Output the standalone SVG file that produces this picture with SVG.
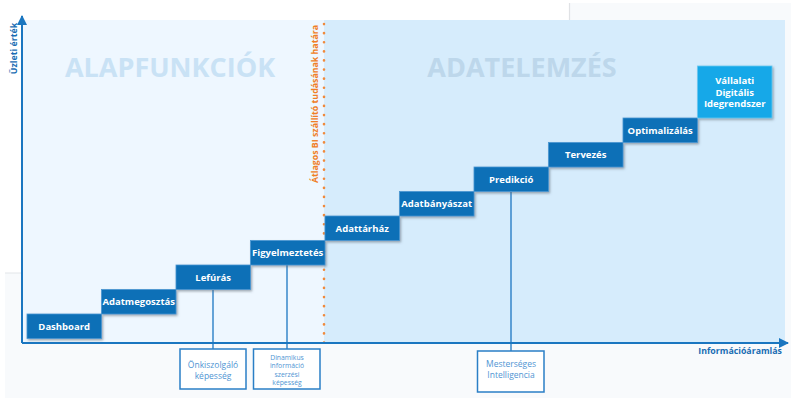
<svg xmlns="http://www.w3.org/2000/svg" width="791" height="398" viewBox="0 0 791 398">
  <style>
    .step { fill: #0c6fb7; stroke: #4a97d2; stroke-width: 0.8; filter: url(#shadow); }
    .step-top { fill: #12a8e8; stroke: #6cc8f0; stroke-width: 0.8; filter: url(#shadow); }
    .step-label { font-family: "Open Sans", "DejaVu Sans", sans-serif; font-weight: bold; font-size: 9.5px; fill: #ffffff; text-anchor: middle; }
    .zone-title { font-family: "Open Sans", "DejaVu Sans", sans-serif; font-weight: bold; font-size: 27px; text-anchor: middle; }
    .axis { stroke: #1a76c0; stroke-width: 2; fill: none; }
    .axis-label { font-family: "Open Sans", "DejaVu Sans", sans-serif; font-weight: bold; font-size: 8.8px; fill: #1a6db3; }
    .leader { stroke: #2a7fc6; stroke-width: 1.4; fill: none; }
    .callout { fill: #ffffff; stroke: #2a7fc6; stroke-width: 1.5; }
    .callout-text { font-family: "Open Sans", "DejaVu Sans", sans-serif; font-size: 8.5px; fill: #4f95d3; text-anchor: middle; }
    .callout-small { font-family: "Open Sans", "DejaVu Sans", sans-serif; font-size: 6.8px; fill: #4f95d3; text-anchor: middle; }
  </style>
  <defs>
    <filter id="shadow" x="-10%" y="-10%" width="130%" height="140%">
      <feDropShadow dx="1.2" dy="1.5" stdDeviation="0.8" flood-color="#5a6470" flood-opacity="0.55"/>
    </filter>
    <marker id="arrow" viewBox="0 0 10 10" refX="9" refY="5" markerWidth="5" markerHeight="5" orient="auto" markerUnits="strokeWidth">
      <path d="M0,0 L10,5 L0,10 Z" fill="#1a76c0"/>
    </marker>
  </defs>

  <!-- page background -->
  <rect x="0" y="0" width="791" height="398" fill="#ffffff"/>
  <rect x="5" y="273" width="786" height="125" fill="#f8fafc"/>
  <line x1="5" y1="273" x2="22" y2="273" stroke="#e2e5e8" stroke-width="1"/>
  <rect x="570" y="3" width="221" height="395" fill="#f8fafc"/>
  <line x1="569.5" y1="3" x2="569.5" y2="20" stroke="#e0e2e5" stroke-width="1.2"/>

  <!-- zones -->
  <g id="zone-basic">
    <rect x="22" y="20" width="302" height="323" fill="#eef7ff"/>
    <text class="zone-title" x="170" y="77" fill="#c9e2f5">ALAPFUNKCIÓK</text>
  </g>
  <g id="zone-analytics">
    <rect x="324" y="20" width="461" height="323" fill="#d6ecfc"/>
    <text class="zone-title" x="522" y="77" fill="#bdd7eb">ADATELEMZÉS</text>
  </g>

  <!-- vendor knowledge boundary -->
  <g id="boundary">
    <line x1="324" y1="24" x2="324" y2="343" stroke="#f08a3c" stroke-width="2.6" stroke-linecap="round" stroke-dasharray="0.1 9"/>
    <text transform="translate(317.5,104) rotate(-90)" font-family="'Open Sans', 'DejaVu Sans', sans-serif" font-weight="bold" font-size="8.8px" fill="#f07e26" text-anchor="middle">Átlagos BI szállító tudásának határa</text>
  </g>

  <!-- connectors: leader lines to capability boxes -->
  <g id="connectors">
    <line class="leader" x1="213" y1="290" x2="213" y2="349"/>
    <line class="leader" x1="287" y1="265" x2="287" y2="349"/>
    <line class="leader" x1="511" y1="192" x2="511" y2="351"/>
  </g>

  <!-- axes -->
  <g id="axes">
    <line class="axis" x1="22" y1="343" x2="22" y2="16" marker-end="url(#arrow)"/>
    <line class="axis" x1="22" y1="343" x2="788" y2="343" marker-end="url(#arrow)"/>
    <text class="axis-label" transform="translate(17,48.5) rotate(-90)" text-anchor="middle">Üzleti érték</text>
    <text class="axis-label" x="782" y="354" text-anchor="end">Információáramlás</text>
  </g>

  <!-- maturity steps -->
  <g id="step-dashboard">
    <rect class="step" x="27" y="314" width="74.5" height="24.5"/>
    <text class="step-label" x="64.2" y="329.5">Dashboard</text>
  </g>
  <g id="step-adatmegosztas">
    <rect class="step" x="101.5" y="289.5" width="74.5" height="24.5"/>
    <text class="step-label" x="138.7" y="305">Adatmegosztás</text>
  </g>
  <g id="step-lefuras">
    <rect class="step" x="176" y="265" width="74.5" height="24.5"/>
    <text class="step-label" x="213.2" y="280.5">Lefúrás</text>
  </g>
  <g id="step-figyelmeztetes">
    <rect class="step" x="250.5" y="240.5" width="74.5" height="24.5"/>
    <text class="step-label" x="287.7" y="256">Figyelmeztetés</text>
  </g>
  <g id="step-adattarhaz">
    <rect class="step" x="325" y="216" width="74.5" height="24.5"/>
    <text class="step-label" x="362.2" y="231.5">Adattárház</text>
  </g>
  <g id="step-adatbanyaszat">
    <rect class="step" x="399.5" y="191.5" width="74.5" height="24.5"/>
    <text class="step-label" x="436.7" y="207">Adatbányászat</text>
  </g>
  <g id="step-predikcio">
    <rect class="step" x="474" y="167" width="74.5" height="24.5"/>
    <text class="step-label" x="511.2" y="182.5">Predikció</text>
  </g>
  <g id="step-tervezes">
    <rect class="step" x="548.5" y="142.5" width="74.5" height="24.5"/>
    <text class="step-label" x="585.7" y="158">Tervezés</text>
  </g>
  <g id="step-optimalizalas">
    <rect class="step" x="623" y="118" width="74.5" height="24.5"/>
    <text class="step-label" x="660.2" y="133.5">Optimalizálás</text>
  </g>
  <g id="step-idegrendszer">
    <rect class="step-top" x="697.5" y="66" width="74.5" height="52"/>
    <text class="step-label" x="734.7" y="84">Vállalati</text>
    <text class="step-label" x="734.7" y="95.5">Digitális</text>
    <text class="step-label" x="734.7" y="107">Idegrendszer</text>
  </g>

  <!-- capability callouts -->
  <g id="callout-onkiszolgalo">
    <rect class="callout" x="180" y="349" width="66" height="40"/>
    <text class="callout-text" x="213" y="368">Önkiszolgáló</text>
    <text class="callout-text" x="213" y="378.5">képesség</text>
  </g>
  <g id="callout-dinamikus">
    <rect class="callout" x="253.5" y="349" width="66.5" height="40"/>
    <text class="callout-small" x="287" y="359.5">Dinamikus</text>
    <text class="callout-small" x="287" y="368">információ</text>
    <text class="callout-small" x="287" y="376.5">szerzési</text>
    <text class="callout-small" x="287" y="385">képesség</text>
  </g>
  <g id="callout-mi">
    <rect class="callout" x="477.5" y="351" width="66.5" height="41"/>
    <text class="callout-text" x="511" y="367">Mesterséges</text>
    <text class="callout-text" x="511" y="377.5">Intelligencia</text>
  </g>
</svg>
